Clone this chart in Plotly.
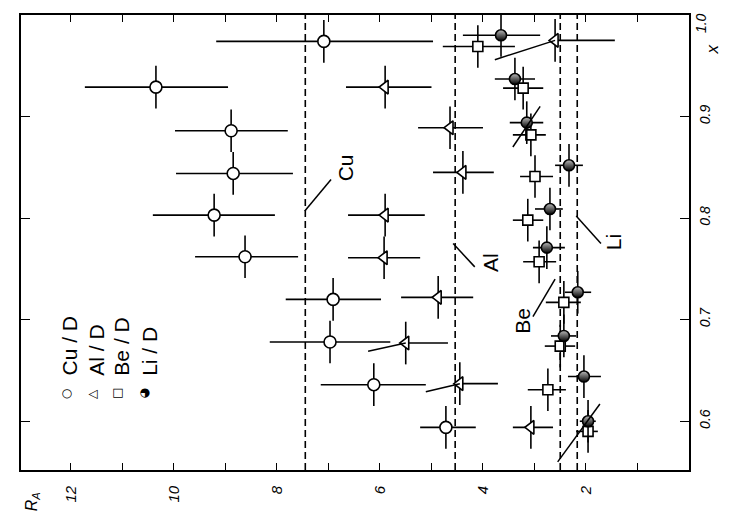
import plotly.graph_objects as go

# ---------------- data (R_A vs Bjorken x) ----------------
cu_x = [0.594, 0.636, 0.678, 0.720, 0.762, 0.803, 0.844, 0.886, 0.929, 0.974]
cu_R = [4.72, 6.12, 6.97, 6.91, 8.62, 9.22, 8.85, 8.89, 10.35, 7.09]
cu_err_hi = [0.50, 1.03, 1.17, 0.92, 0.97, 1.19, 1.11, 1.09, 1.38, 2.09]
cu_err_lo = [0.58, 1.01, 1.17, 0.93, 1.03, 1.18, 1.16, 1.10, 1.40, 2.12]

al_x = [0.594, 0.637, 0.677, 0.722, 0.761, 0.803, 0.845, 0.889, 0.929, 0.975]
al_R = [3.07, 4.45, 5.50, 4.87, 5.92, 5.90, 4.39, 4.64, 5.90, 2.60]
al_err_hi = [0.35, 0.0, 0.0, 0.72, 0.70, 0.72, 0.58, 0.62, 0.76, 0.0]
al_err_lo = [0.43, 0.74, 0.82, 0.68, 0.70, 0.77, 0.60, 0.64, 0.90, 1.16]

be_x = [0.590, 0.631, 0.674, 0.717, 0.757, 0.798, 0.841, 0.882, 0.928, 0.969]
be_R = [1.96, 2.74, 2.50, 2.43, 2.91, 3.13, 2.99, 3.07, 3.22, 4.10]
be_err_hi = [0.23, 0.39, 0.30, 0.35, 0.31, 0.29, 0.29, 0.35, 0.39, 0.68]
be_err_lo = [0.19, 0.35, 0.29, 0.33, 0.33, 0.30, 0.35, 0.29, 0.39, 0.72]

li_x = [0.600, 0.644, 0.684, 0.727, 0.771, 0.809, 0.852, 0.894, 0.937, 0.980]
li_R = [1.96, 2.04, 2.43, 2.16, 2.76, 2.70, 2.33, 3.15, 3.38, 3.65]
li_err_hi = [0.16, 0.31, 0.25, 0.25, 0.27, 0.29, 0.27, 0.33, 0.39, 0.74]
li_err_lo = [0.15, 0.33, 0.24, 0.26, 0.35, 0.25, 0.27, 0.32, 0.39, 0.76]

x_bin_half = 0.021

# constant (dashed) levels
fit_names = ["Cu", "Al", "Be", "Li"]
fit_levels = [7.45, 4.54, 2.50, 2.17]

# label positions (R, x) and pointer segments (R0, x0, R1, x1)
label_R = [6.68, 3.84, 3.22, 1.46]
label_x = [0.850, 0.756, 0.699, 0.776]
pointer_segments = [
    (7.46, 0.807, 6.95, 0.838),
    (4.58, 0.775, 4.16, 0.752),
    (2.60, 0.740, 3.03, 0.703),
    (2.19, 0.802, 1.71, 0.775),
]
# slanted (hand-drawn) bar strokes
slanted_segments = [
    (3.77, 0.956, 2.60, 0.975),
    (6.23, 0.669, 5.50, 0.677),
    (5.11, 0.629, 4.45, 0.637),
    (2.55, 0.560, 1.73, 0.617),
    (3.42, 0.870, 2.89, 0.910),
]

RA_tick_vals = list(range(1, 13))
RA_tick_text = [" " if v % 2 else str(v) for v in RA_tick_vals]
x_tick_vals = [0.6, 0.7, 0.8, 0.9]
x_tick_text = ["0.6", "0.7", "0.8", "0.9"]

legend_symbols = ["○", "△", "□", "◕"]
legend_texts = ["Cu / D", "Al / D", "Be / D", "Li / D"]

# ---------------- figure ----------------
FONT = "Liberation Sans, Arial, sans-serif"
fig = go.Figure()


def add_series(R, xv, hi, lo, marker):
    fig.add_trace(go.Scatter(
        x=R, y=xv, mode="markers", marker=marker, showlegend=False,
        error_x=dict(type="data", symmetric=False, array=hi, arrayminus=lo,
                     color="black", thickness=1.6, width=0),
        error_y=dict(type="constant", value=x_bin_half, color="black",
                     thickness=1.6, width=0),
    ))


add_series(cu_R, cu_x, cu_err_hi, cu_err_lo,
           dict(symbol="circle", size=12, color="white", line=dict(color="black", width=1.6)))
add_series(al_R, al_x, al_err_hi, al_err_lo,
           dict(symbol="triangle-left", size=12, color="white", line=dict(color="black", width=1.6)))
add_series(be_R, be_x, be_err_hi, be_err_lo,
           dict(symbol="square", size=10, color="white", line=dict(color="black", width=1.6)))
add_series(li_R, li_x, li_err_hi, li_err_lo,
           dict(symbol="circle", size=11, color="#bbbbbb", line=dict(color="black", width=1.6),
                gradient=dict(type="vertical", color="black")))

for lvl in fit_levels:
    fig.add_shape(type="line", xref="x", yref="paper", x0=lvl, x1=lvl, y0=0, y1=1,
                  line=dict(color="black", width=1.6, dash="7px,4px"), layer="below")

for (r0, x0, r1, x1) in pointer_segments + slanted_segments:
    fig.add_shape(type="line", xref="x", yref="y", x0=r0, y0=x0, x1=r1, y1=x1,
                  line=dict(color="black", width=1.5))

for name, r, xv in zip(fit_names, label_R, label_x):
    fig.add_annotation(x=r, y=xv, xref="x", yref="y", text=name, showarrow=False,
                       textangle=-90, font=dict(family=FONT, size=21, color="black"))

# legend (rotated text)
leg_cols = [0.053, 0.093, 0.131, 0.171]
for col, sym, txt in zip(leg_cols, legend_symbols, legend_texts):
    fig.add_annotation(x=col, y=0.152, xref="paper", yref="paper", text=sym, showarrow=False,
                       textangle=-90, font=dict(family="DejaVu Sans", size=12, color="black"))
    fig.add_annotation(x=col, y=0.203, xref="paper", yref="paper", text=txt, showarrow=False,
                       textangle=-90, font=dict(family=FONT, size=21, color="black"))

# axis titles and top label
fig.add_annotation(x=1.052, y=0.94, xref="paper", yref="paper", text="x", showarrow=False,
                   textangle=-90, font=dict(family=FONT, size=17, color="black", style="italic"))
fig.add_annotation(x=0.0, y=-0.095, xref="paper", yref="paper", text="R<sub>A</sub>",
                   showarrow=False, textangle=-90,
                   font=dict(family=FONT, size=16, color="black", style="italic"))
fig.add_annotation(x=1.019, y=1.008, xref="paper", yref="paper", text="1.0", showarrow=False,
                   textangle=-90, xanchor="center", yanchor="top",
                   font=dict(family=FONT, size=14, color="black", style="italic"))

fig.update_layout(
    width=731, height=524,
    margin=dict(l=13, r=50, t=5, b=62),
    paper_bgcolor="white", plot_bgcolor="white",
    showlegend=False,
    xaxis=dict(range=[12.97, 0.0], tickvals=RA_tick_vals, ticktext=RA_tick_text,
               ticks="inside", ticklen=7, tickwidth=1.4, tickcolor="black",
               showline=True, linewidth=1.6, linecolor="black", mirror="ticks",
               showgrid=False, zeroline=False, tickangle=-90, ticklabelstandoff=8,
               tickfont=dict(family=FONT, size=15, color="black", style="italic")),
    yaxis=dict(range=[0.552, 1.0], side="right", tickvals=x_tick_vals, ticktext=x_tick_text,
               ticks="inside", ticklen=9, tickwidth=1.4, tickcolor="black",
               showline=True, linewidth=1.6, linecolor="black", mirror="ticks",
               showgrid=False, zeroline=False, tickangle=-90, ticklabelstandoff=2,
               tickfont=dict(family=FONT, size=14, color="black", style="italic")),
)

fig.write_html("out.html")
